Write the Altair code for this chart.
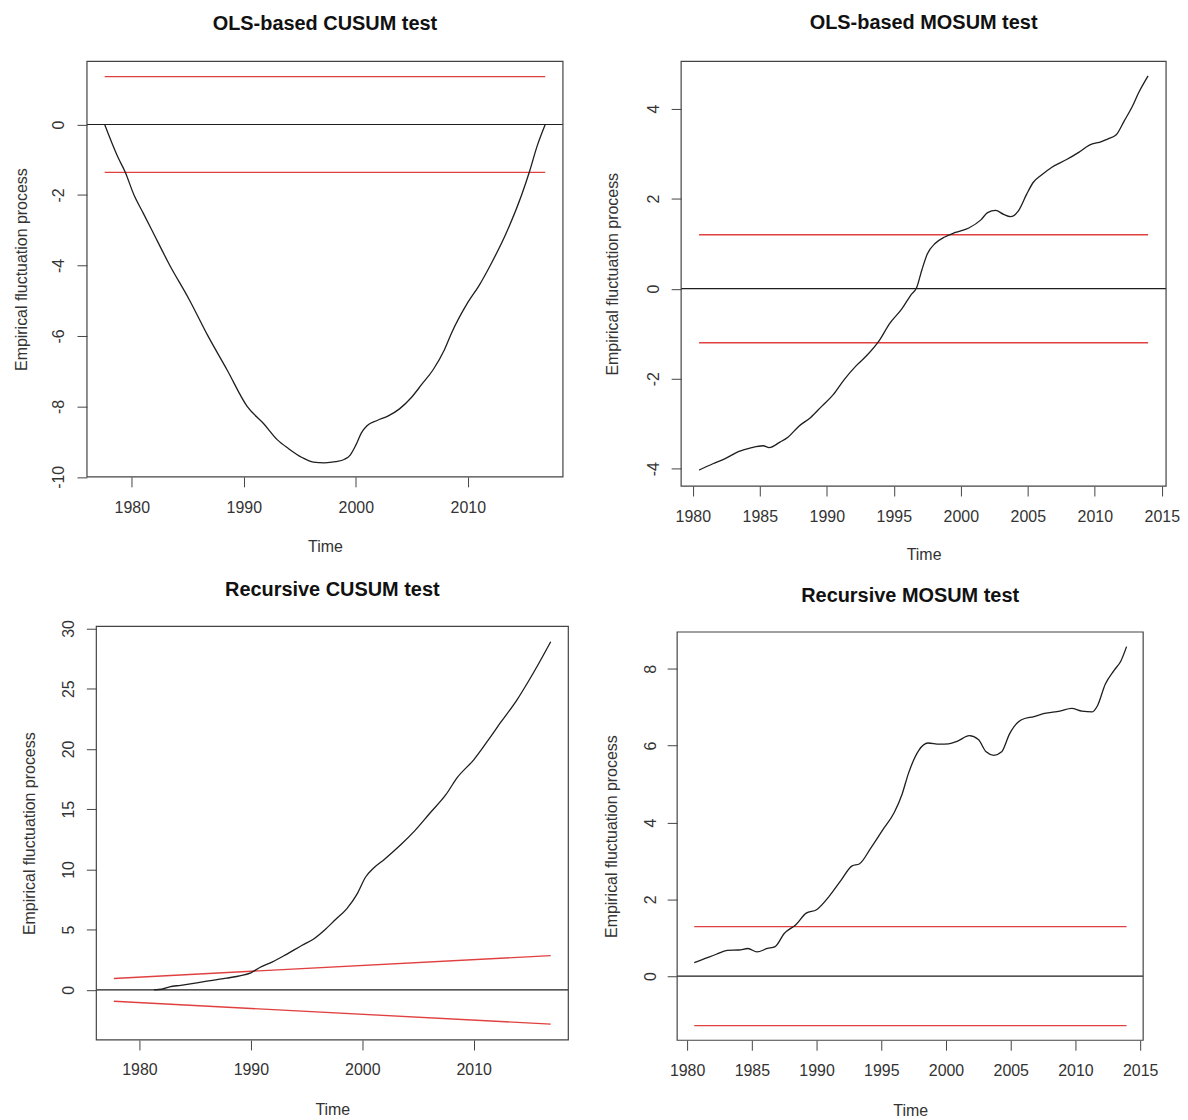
import altair as alt
import pandas as pd

FONT = "Liberation Sans"

# ---------------- data ----------------
# OLS-based CUSUM
ols_cusum_t = [1977.58, 1978.2, 1978.8, 1979.4, 1980.2, 1981.0, 1981.8, 1983.4, 1985.1, 1986.8,
               1988.5, 1990.3, 1991.8, 1993.0, 1994.0, 1995.2, 1996.2, 1997.2, 1998.2, 1999.0,
               1999.5, 2000.0, 2000.5, 2001.0, 2001.9, 2002.9, 2003.9, 2004.9, 2005.9, 2006.9,
               2007.9, 2008.5, 2010.0, 2011.0, 2012.0, 2013.4, 2014.8, 2015.5, 2016.2, 2016.91]
ols_cusum_v = [0, -0.5, -0.95, -1.34, -2.0, -2.5, -3.0, -4.0, -4.95, -6.0,
               -6.96, -8.0, -8.5, -8.95, -9.2, -9.45, -9.58, -9.6, -9.57, -9.5,
               -9.38, -9.1, -8.75, -8.55, -8.4, -8.27, -8.07, -7.77, -7.37, -6.96,
               -6.4, -5.95, -5.05, -4.57, -4.0, -3.1, -2.0, -1.34, -0.6, 0]
ols_cusum_bound_t = [1977.58, 2016.91]
ols_cusum_bound_v = [1.358, 1.358]

# OLS-based MOSUM
ols_mosum_t = [1980.47, 1981.5, 1982.45, 1983.4, 1984.4, 1985.25, 1985.7, 1986.5, 1987.1, 1987.9,
               1988.8, 1989.6, 1990.5, 1991.3, 1992.2, 1993.0, 1993.9, 1994.7, 1995.6, 1996.3,
               1996.7, 1997.1, 1997.5, 1998.1, 1998.8, 1999.6, 2000.6, 2001.5, 2002.0, 2002.6,
               2003.2, 2003.7, 2004.3, 2004.9, 2005.4, 2006.0, 2006.8, 2007.9, 2008.8, 2009.6,
               2010.5, 2011.0, 2011.6, 2012.2, 2012.8, 2013.3, 2013.98]
ols_mosum_v = [-4.03, -3.89, -3.77, -3.62, -3.53, -3.49, -3.53, -3.41, -3.30, -3.06,
               -2.86, -2.62, -2.35, -2.02, -1.71, -1.48, -1.16, -0.77, -0.45, -0.13,
               0.02, 0.42, 0.77, 1.01, 1.15, 1.25, 1.35, 1.53, 1.69, 1.74,
               1.65, 1.60, 1.73, 2.09, 2.36, 2.52, 2.70, 2.87, 3.03, 3.19,
               3.27, 3.33, 3.42, 3.73, 4.05, 4.37, 4.73]
ols_mosum_bound_t = [1980.47, 2013.98]
ols_mosum_bound_v = [1.2, 1.2]

# Recursive CUSUM
rec_cusum_t = [1981.3, 1982.0, 1982.7, 1983.7, 1985.8, 1987.8, 1989.1, 1990.0, 1990.8, 1991.9,
               1993.2, 1994.6, 1995.6, 1996.6, 1997.6, 1998.6, 1999.5, 2000.3, 2001.0, 2002.0,
               2003.4, 2004.7, 2006.1, 2007.5, 2008.5, 2010.0, 2011.2, 2012.5, 2013.9, 2014.9,
               2015.9, 2016.91]
rec_cusum_v = [0, 0.05, 0.25, 0.38, 0.68, 0.97, 1.18, 1.41, 1.86, 2.3,
               2.95, 3.7, 4.2, 4.95, 5.84, 6.72, 7.9, 9.37, 10.1, 10.85,
               12.0, 13.2, 14.7, 16.2, 17.6, 19.1, 20.6, 22.3, 24.1, 25.6,
               27.2, 28.9]
rec_cusum_bound_t = [1977.7, 2016.91]
rec_cusum_bound_v = [0.948, 2.845]

# Recursive MOSUM
rec_mosum_t = [1980.55, 1981.4, 1982.25, 1983.1, 1984.0, 1984.7, 1985.4, 1986.2, 1986.8, 1987.5,
               1988.4, 1989.2, 1990.0, 1991.0, 1991.9, 1992.75, 1993.3, 1994.2, 1995.1, 1996.0,
               1996.6, 1997.1, 1997.9, 1998.6, 1999.5, 2000.2, 2000.9, 2001.8, 2002.5, 2003.1,
               2003.7, 2004.3, 2004.9, 2005.8, 2006.8, 2007.6, 2008.8, 2009.7, 2010.5, 2011.3,
               2011.7, 2012.3, 2013.0, 2013.5, 2013.95]
rec_mosum_v = [0.35, 0.46, 0.57, 0.67, 0.68, 0.72, 0.63, 0.72, 0.77, 1.11,
               1.34, 1.64, 1.73, 2.09, 2.5, 2.87, 2.92, 3.34, 3.8, 4.26,
               4.73, 5.28, 5.88, 6.07, 6.04, 6.05, 6.12, 6.26, 6.16, 5.84,
               5.75, 5.84, 6.3, 6.67, 6.76, 6.84, 6.9, 6.97, 6.9, 6.88,
               7.04, 7.6, 7.97, 8.2, 8.58]
rec_mosum_bound_t = [1980.55, 2013.95]
rec_mosum_bound_v = [1.29, 1.29]

ticks_10 = [1980, 1990, 2000, 2010]
ticks_5 = [1980, 1985, 1990, 1995, 2000, 2005, 2010, 2015]

W0, W1 = 586, 586   # column widths of the grid cells
H0, H1 = 560, 544   # row heights of the grid cells


def panel(title, t, v, bt, bv, xdom, ydom, xticks, yticks, W, H, box,
          title_pos, ylab_pad, xlab_pad, ytitle_x, xtitle_y):
    bx0, bx1, by0, by1 = box
    proc = pd.DataFrame({"t": t, "v": v})
    bnd = pd.DataFrame({
        "t": list(bt) + list(bt),
        "v": list(bv) + [-b for b in bv],
        "g": ["upper"] * len(bt) + ["lower"] * len(bt),
    })
    xscale = alt.Scale(domain=xdom, range=[bx0, bx1], nice=False, zero=False)
    yscale = alt.Scale(domain=ydom, range=[by1, by0], nice=False, zero=False)
    xenc = alt.X("t:Q", scale=xscale,
                 axis=alt.Axis(values=xticks, labelExpr="'' + datum.value", title="Time",
                               offset=by1 - H,
                               grid=False, domain=False, tickSize=10, tickColor="#444",
                               tickWidth=1, labelFont=FONT, labelFontSize=16, labelColor="#333",
                               labelBaseline="alphabetic", labelAlign="center",
                               labelPadding=xlab_pad, labelFlush=False, labelOverlap=False,
                               titleFont=FONT, titleFontSize=16, titleFontWeight="normal",
                               titleColor="#333", titleBaseline="alphabetic", titleAlign="center",
                               titleX=(bx0 + bx1) / 2, titleY=xtitle_y, titleAngle=0))
    yenc = alt.Y("v:Q", scale=yscale,
                 axis=alt.Axis(values=yticks, labelExpr="'' + datum.value",
                               title="Empirical fluctuation process",
                               offset=-bx0,
                               grid=False, domain=False, tickSize=10, tickColor="#444",
                               tickWidth=1, labelFont=FONT, labelFontSize=16, labelColor="#333",
                               labelAngle=270, labelAlign="center", labelBaseline="alphabetic",
                               labelPadding=ylab_pad, labelFlush=False, labelOverlap=False,
                               titleFont=FONT, titleFontSize=16, titleFontWeight="normal",
                               titleColor="#333", titleBaseline="alphabetic", titleAlign="center",
                               titleAngle=270, titleX=-ytitle_x, titleY=(by0 + by1) / 2))

    one = pd.DataFrame({"v": [0]})
    zero = alt.Chart(one).mark_rule(color="#1e1e1e", strokeWidth=1.2).encode(
        y=yenc, x=alt.value(bx0), x2=alt.value(bx1))
    bounds = alt.Chart(bnd).mark_line(color="#e0403f", strokeWidth=1.4).encode(
        x=xenc, y=yenc, detail="g:N")
    line = alt.Chart(proc).mark_line(color="#1e1e1e", strokeWidth=1.3,
                                     interpolate="monotone").encode(x=xenc, y=yenc)
    frame = alt.Chart(one).mark_rect(fillOpacity=0, stroke="#444", strokeWidth=1.2).encode(
        x=alt.value(bx0), x2=alt.value(bx1), y=alt.value(by0), y2=alt.value(by1))
    ttl = alt.Chart(one).mark_text(text=title, font=FONT, fontSize=20, fontWeight="bold",
                                   color="#111", align="center", baseline="alphabetic").encode(
        x=alt.value(title_pos[0]), y=alt.value(title_pos[1]))
    corner = alt.Chart(one).mark_rule(opacity=0, strokeOpacity=0).encode(
        x=alt.value(W - 1), x2=alt.value(W), y=alt.value(H))
    return alt.layer(zero, bounds, line, frame, ttl, corner).properties(width=W, height=H)


tl = panel("OLS-based CUSUM test", ols_cusum_t, ols_cusum_v, ols_cusum_bound_t, ols_cusum_bound_v,
           [1976.0, 2018.49], [-10.0, 1.79], ticks_10, [-10, -8, -6, -4, -2, 0],
           W0, H0, (79.3, 557.3, 51.3, 468.5), (318.3, 19.9), 14, 26, 61, 75.3)
tr = panel("OLS-based MOSUM test", ols_mosum_t, ols_mosum_v, ols_mosum_bound_t, ols_mosum_bound_v,
           [1979.13, 2015.32], [-4.385, 5.05], ticks_5, [-4, -2, 0, 2, 4],
           W1, H0, (90, 577, 51.3, 477.7), (333.5, 18.8), 12.3, 26, 64, 74)
bl = panel("Recursive CUSUM test", rec_cusum_t, rec_cusum_v, rec_cusum_bound_t, rec_cusum_bound_v,
           [1976.13, 2018.49], [-4.16, 30.17], ticks_10, [0, 5, 10, 15, 20, 25, 30],
           W0, H1, (88.7, 562.7, 58.7, 474), (325.7, 27.7), 12.7, 24.5, 61.7, 74.8)
br = panel("Recursive MOSUM test", rec_mosum_t, rec_mosum_v, rec_mosum_bound_t, rec_mosum_bound_v,
           [1979.23, 2015.23], [-1.67, 8.96], ticks_5, [0, 2, 4, 6, 8],
           W1, H1, (86, 554, 64.3, 474.3), (320, 34.1), 11.7, 25.2, 61, 75.3)

chart = alt.concat(tl, tr, bl, br, columns=2, spacing=0, align="each").properties(
    padding=0, background="white").configure_view(stroke="transparent", strokeWidth=0)

chart.save("out.html", embed_options={"renderer": "svg", "actions": False})
